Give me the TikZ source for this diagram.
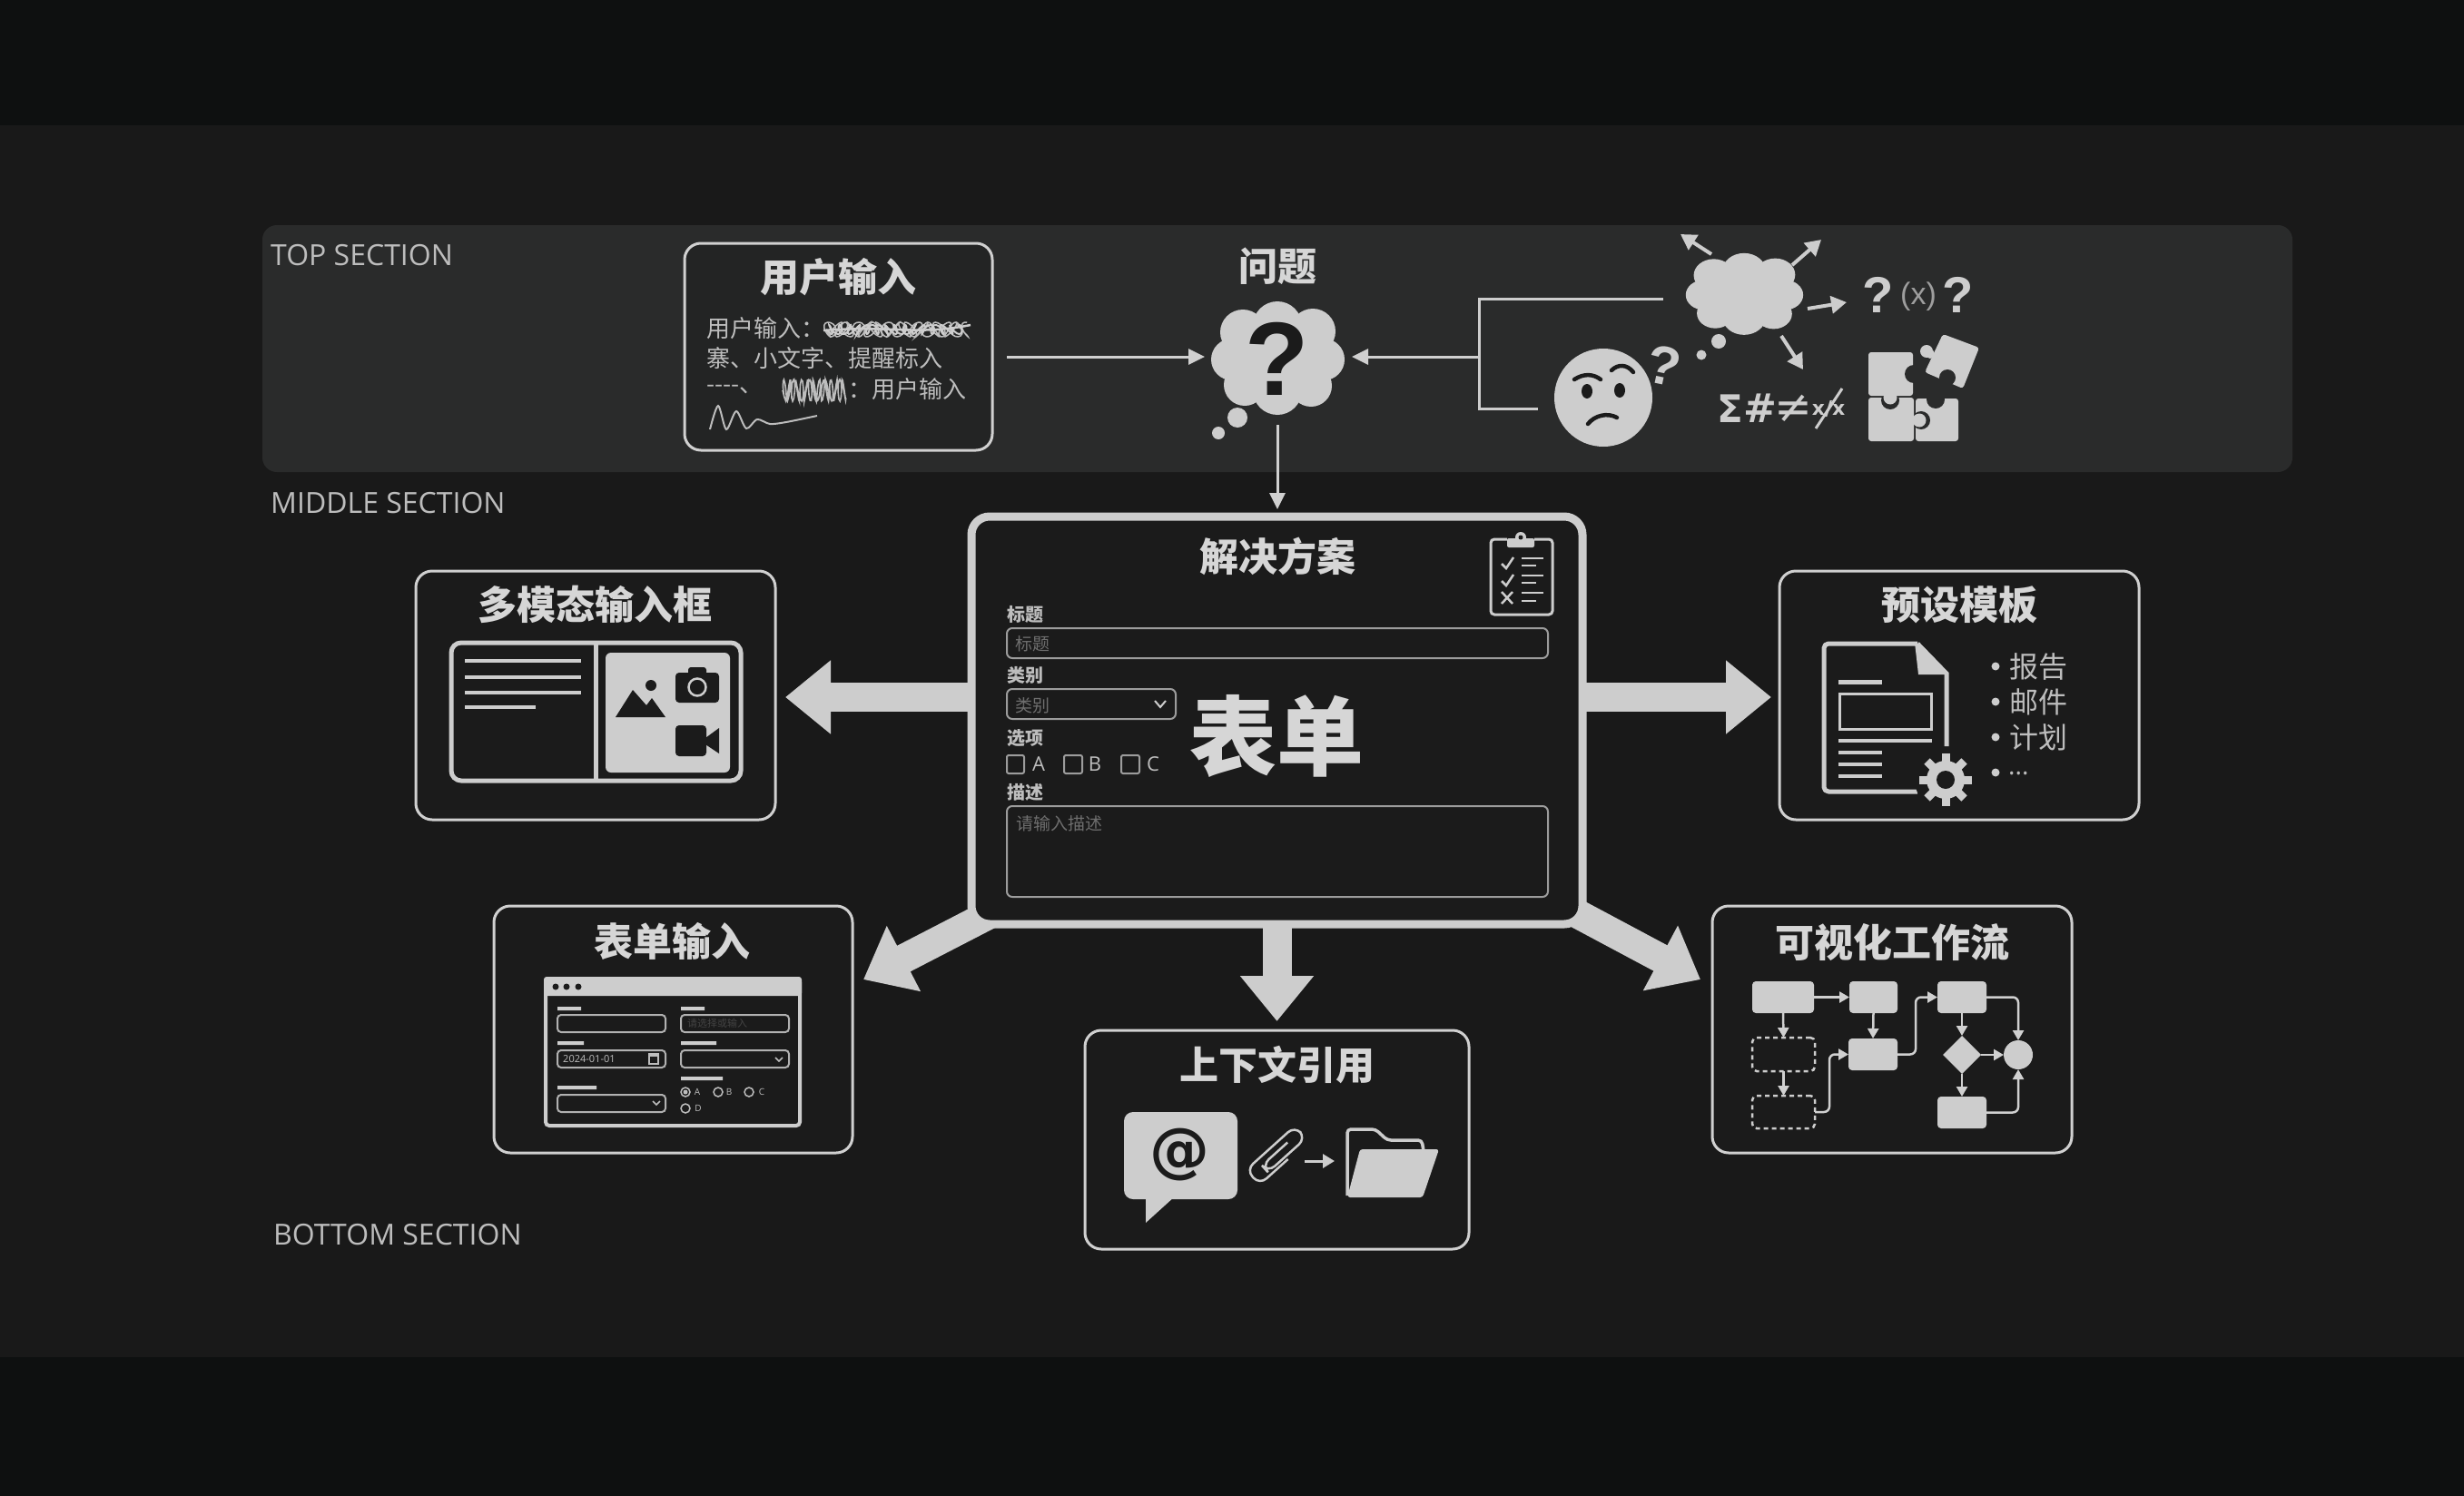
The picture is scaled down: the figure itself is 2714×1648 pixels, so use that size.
\documentclass[tikz,border=0pt]{standalone}
\usepackage{fontspec}
\setmainfont{Open Sans}
\newfontfamily\cjk{Noto Sans CJK SC}
\newfontfamily\djv{DejaVu Sans}
\newfontfamily\lib{Liberation Sans}
\usetikzlibrary{arrows.meta,shapes.geometric}
\definecolor{bandcol}{HTML}{0E1010}
\definecolor{midcol}{HTML}{191919}
\definecolor{panelcol}{HTML}{2A2B2B}
\definecolor{boxfill}{HTML}{1B1B1B}
\definecolor{userfill}{HTML}{232424}
\definecolor{light}{HTML}{CDCDCD}
\definecolor{boxline}{HTML}{D0D0D0}
\definecolor{titlecol}{HTML}{D6D6D6}
\definecolor{dimtxt}{HTML}{BDBDBD}
\definecolor{ghost}{HTML}{6E6E6E}
\newcommand{\fsz}[1]{\fontsize{#1}{#1}\selectfont}
% cx, cy, x scale, y scale
\newcommand{\lobes}[4]{\begin{scope}[shift={(#1,#2)},xscale=#3,yscale=#4]
\fill[light] (0,-35) -- (39,-29) -- (51,2) -- (37,31) -- (0,36) -- (-36,30) -- (-50,2) -- (-38,-28) -- cycle;
\fill[light] (0,-35) circle (27);
\fill[light] (-38,-28) circle (25);
\fill[light] (39,-29) circle (25);
\fill[light] (-50,2) circle (23);
\fill[light] (51,2) circle (23);
\fill[light] (-36,30) circle (23);
\fill[light] (37,31) circle (23);
\fill[light] (0,36) circle (27);
\end{scope}}
\tikzset{
  card/.style={draw=boxline,line width=3pt,fill=boxfill,rounded corners=18pt,inner sep=0pt,outer sep=0pt},
  title/.style={text=titlecol,inner sep=0pt,font=\cjk\bfseries\fsz{43}},
  seclabel/.style={text=dimtxt,inner sep=0pt,anchor=west,font=\fsz{32}},
  bodytxt/.style={text=dimtxt,inner sep=0pt,anchor=west,font=\cjk\fsz{26}},
  flabel/.style={text=dimtxt,inner sep=0pt,anchor=west,font=\cjk\bfseries\fsz{20}},
  fghost/.style={text=ghost,inner sep=0pt,anchor=west,font=\cjk\fsz{19}},
  field/.style={draw=boxline!75!black,line width=2pt,rounded corners=6pt},
  thin/.style={draw=light,line width=3pt},
  conn/.style={draw=boxline,line width=3pt,-{Triangle[length=18pt,width=17pt]}},
  spark/.style={draw=light,line width=4pt,-{Triangle[length=17pt,width=19pt]}},
  blockarrow/.style={draw=light,line width=32pt,-{Triangle[length=50pt,width=78pt]}},
  flowbox/.style={fill=light,rounded corners=4pt,inner sep=0pt,outer sep=0pt},
  flowdash/.style={draw=light,line width=2.5pt,dash pattern=on 5pt off 4pt,rounded corners=5pt,inner sep=0pt,outer sep=0pt},
  flowedge/.style={draw=boxline,line width=2.5pt,rounded corners=6pt,-{Triangle[length=11pt,width=12pt]}},
  smallt/.style={text=dimtxt,inner sep=0pt,font=\fsz{10}},
}
\begin{document}
\begin{tikzpicture}[x=1pt,y=-1pt]
\useasboundingbox (0,0) rectangle (2714,1648);
% backgrounds
\fill[midcol] (0,0) rectangle (2714,1648);
\fill[bandcol] (0,0) rectangle (2714,138);
\fill[bandcol] (0,1495) rectangle (2714,1648);
\fill[panelcol,rounded corners=16pt] (289,248) rectangle (2525,520);
% section labels
\node[seclabel] (ltop) at (298,281) {TOP SECTION};
\node[seclabel] (lmid) at (298,554) {MIDDLE SECTION};
\node[seclabel] (lbot) at (301,1360) {BOTTOM SECTION};
% user input
\node[card,fill=userfill,minimum width=339pt,minimum height=228pt] (user) at (923.5,382) {};
\node[title] (tuser) at (923,305) {用户输入};
\node[bodytxt] (u1) at (778,362) {用户输入：};
\node[bodytxt] (u2) at (778,395) {寨、小文字、提醒标入};
\node[bodytxt] (u3) at (778,429) {----、};
\node[bodytxt] (u3b) at (934,429) {：用户输入};
\draw[dimtxt,line width=1.5pt] plot[domain=0:1,samples=300] ({908+158*\x+5*sin(9000*\x)},{363+8*sin(7130*\x)});
\draw[light,line width=2pt] plot[domain=0:1,samples=200] ({910+150*\x+4*sin(5300*\x)},{363+5*sin(6100*\x)});
\draw[light,line width=2.5pt] (907,364) .. controls (980,358) and (1010,370) .. (1069,358);
\draw[dimtxt,line width=1.6pt] plot[domain=0:1,samples=160] ({862+70*\x+3*sin(5400*\x)},{430+12*sin(6900*\x)});
\draw[dimtxt,line width=2pt,smooth] plot coordinates {(782,473) (791,447) (800,473) (811,453) (822,472) (834,462) (848,467) (866,465) (900,458)};
% question cloud
\lobes{1407}{394}{1}{1}
\fill[light] (1363,460) circle (11) (1342,477) circle (7);
\node[inner sep=0pt,text=boxfill,font=\lib\bfseries\fsz{115}] (qmark) at (1407,395) {?};
\node[title] (tq) at (1407,293) {问题};
\coordinate (qin) at (1327,393);
\coordinate (qout) at (1489,393);
\coordinate (qbot) at (1407,468);
\coordinate (jleft) at (1629,393);
\coordinate (cw) at (1832,329);
\coordinate (jtop) at (1629,329);
\coordinate (jbot) at (1629,450);
\coordinate (fw) at (1694,450);
\draw[conn,shorten <=16pt] (user.east |- qin) -- (qin);
\draw[thin] (cw) -- (jtop) -- (jbot) -- (fw);
\draw[conn] (jleft) -- (qout);
% thinking cloud
\lobes{1921}{323.5}{.88}{.72}
\fill[light] (1893,376) circle (8) (1874,391) circle (5.5);
\coordinate (c1a) at (1885,280); \coordinate (c1b) at (1851,258);
\coordinate (c2a) at (1974,292); \coordinate (c2b) at (2006,264);
\coordinate (c3a) at (1991,340); \coordinate (c3b) at (2034,333);
\coordinate (c4a) at (1962,370); \coordinate (c4b) at (1986,407);
\draw[spark] (c1a) -- (c1b);
\draw[spark] (c2a) -- (c2b);
\draw[spark] (c3a) -- (c3b);
\draw[spark] (c4a) -- (c4b);
\node[inner sep=0pt,text=light,font=\lib\bfseries\fsz{56}] (q1) at (2069,325) {?};
\node[inner sep=0pt,text=ghost!50!light,font=\lib\fsz{34}] (q2) at (2113,327) {(x)};
\node[inner sep=0pt,text=light,font=\lib\bfseries\fsz{56}] (q3) at (2157,325) {?};
% face
\fill[light] (1766,438) circle (54);
\fill[boxfill] (1748,431) ellipse (6 and 8) (1784,430) ellipse (6 and 8);
\draw[boxfill,line width=4.5pt,line cap=round] (1734,418) .. controls (1745,411) and (1755,412) .. (1763,418);
\draw[boxfill,line width=4.5pt,line cap=round] (1775,408) .. controls (1782,401) and (1792,401) .. (1799,410);
\draw[boxfill,line width=4.5pt,line cap=round] (1749,467) .. controls (1756,458) and (1770,454) .. (1781,460);
\node[inner sep=0pt,text=light,rotate=-12,font=\lib\bfseries\fsz{60}] (fq) at (1833,403) {?};
% symbols
\node[inner sep=0pt,text=light,font=\djv\bfseries\fsz{42}] (s1) at (1906,450) {Σ};
\node[inner sep=0pt,text=light,font=\djv\bfseries\fsz{44}] (s2) at (1939,450) {\#};
\node[inner sep=0pt,text=light,font=\djv\fsz{50}] (s3) at (1975,450) {≠};
\node[inner sep=0pt,text=light,font=\djv\bfseries\fsz{22}] (s4) at (2014,450) {x/x};
\draw[light,line width=3pt] (2000,472) -- (2029,428);
% puzzle
\fill[light,rounded corners=3pt] (2058,388) rectangle (2107,436);
\fill[light,rounded corners=3pt] (2058,438) rectangle (2108,486);
\fill[light,rounded corners=3pt] (2110,439) rectangle (2157,486);
\fill[panelcol] (2108,412) circle (10) (2132,440) circle (10);
\begin{scope}
\clip (2056,438) rectangle (2108,486);
\fill[panelcol] (2082,441) circle (10);
\end{scope}
\fill[light] (2082,438) circle (7.5);
\begin{scope}
\clip (2110,439) rectangle (2157,486);
\fill[panelcol] (2116,463) circle (10);
\end{scope}
\fill[light] (2114,463) circle (7.5);
\fill[light,rounded corners=3pt] (2140,368) -- (2180,383) -- (2162,428) -- (2120,410) -- cycle;
\fill[light] (2122,387) circle (7) (2126,390) circle (5);
\fill[panelcol] (2145,416) circle (9);
% arrows out of the solution
\coordinate (swS) at (1100,1002);
\coordinate (swT) at (951,1079);
\coordinate (seS) at (1725,1000);
\coordinate (seT) at (1873,1079);
\draw[conn] (qbot) -- (1407,561);
\draw[blockarrow] (swS) -- (swT);
\draw[blockarrow] (seS) -- (seT);
% solution
\node[card,line width=9pt,draw=light,rounded corners=20pt,minimum width=673pt,minimum height=449pt] (sol) at (1406.5,793.5) {};
\coordinate (ml) at (1000,768);
\draw[blockarrow,shorten <=-1pt] (sol.west |- ml) -- (865,768);
\draw[blockarrow,shorten <=-1pt] (sol.east |- ml) -- (1951,768);
\draw[blockarrow,shorten <=-1pt] (sol.south) -- (1406.5,1125);
\node[title] (tsol) at (1407,613) {解决方案};
% clipboard
\draw[light,line width=3pt,rounded corners=4pt] (1660,594) -- (1642,594) -- (1642,677) -- (1710,677) -- (1710,594) -- (1690,594);
\fill[light,rounded corners=2pt] (1660,593) rectangle (1690,603);
\fill[light] (1675,592) circle (6);
\fill[boxfill] (1675,592) circle (2.5);
\draw[light,line width=2.5pt] (1654,621) -- (1659,626) -- (1667,614);
\draw[light,line width=2.5pt] (1654,640) -- (1659,645) -- (1667,633);
\draw[light,line width=2.5pt] (1654,652) -- (1666,665) (1666,652) -- (1654,665);
\draw[light,line width=2.5pt] (1676,615) -- (1700,615) (1676,623) -- (1692,623);
\draw[light,line width=2.5pt] (1676,634) -- (1700,634) (1676,642) -- (1692,642);
\draw[light,line width=2.5pt] (1676,653) -- (1700,653) (1676,662) -- (1692,662);
% form in solution
\node[flabel] (l1) at (1109,677) {标题};
\draw[field] (1109,692) rectangle (1705,725);
\node[fghost] (g1) at (1118,709) {标题};
\node[flabel] (l2) at (1109,744) {类别};
\draw[field] (1109,759) rectangle (1295,792);
\node[fghost] (g2) at (1118,777) {类别};
\draw[light,line width=2pt] (1272,772) -- (1278,779) -- (1284,772);
\node[flabel] (l3) at (1109,813) {选项};
\draw[boxline!75!black,line width=2pt,rounded corners=2pt] (1109,832) rectangle (1128,852);
\draw[boxline!75!black,line width=2pt,rounded corners=2pt] (1172,832) rectangle (1192,852);
\draw[boxline!75!black,line width=2pt,rounded corners=2pt] (1235,832) rectangle (1255,852);
\node[text=dimtxt,inner sep=0pt,font=\fsz{22}] (oa) at (1144,842) {A};
\node[text=dimtxt,inner sep=0pt,font=\fsz{22}] (ob) at (1206,842) {B};
\node[text=dimtxt,inner sep=0pt,font=\fsz{22}] (oc) at (1270,842) {C};
\node[flabel] (l4) at (1109,873) {描述};
\draw[field] (1109,888) rectangle (1705,988);
\node[fghost] (g4) at (1119,907) {请输入描述};
\node[inner sep=0pt,text=titlecol,font=\cjk\bfseries\fsz{96}] (big) at (1406,811) {表单};
% multimodal
\node[card,minimum width=396pt,minimum height=274pt] (multi) at (656,766) {};
\node[title] (tmulti) at (655,666) {多模态输入框};
\draw[light,line width=5pt,rounded corners=11pt] (497,708) rectangle (816,860);
\draw[light,line width=5pt] (656,708) -- (656,860);
\draw[light,line width=3.5pt] (512,728) -- (640,728) (512,746) -- (640,746) (512,763) -- (640,763) (512,779) -- (590,779);
\fill[light,rounded corners=6pt] (667,719) rectangle (804,851);
\fill[boxfill] (678,790) -- (697,760) -- (712,777) -- (718,769) -- (733,790) -- cycle;
\fill[boxfill] (717,755) circle (6);
\fill[boxfill,rounded corners=4pt] (744,741) rectangle (792,774);
\fill[boxfill,rounded corners=3pt] (758,735) rectangle (778,745);
\draw[light,line width=2.5pt] (768,757) circle (9.5);
\fill[boxfill,rounded corners=4pt] (744,799) rectangle (778,833);
\fill[boxfill] (777,813) -- (792,802) -- (792,830) -- (777,820) -- cycle;
% templates
\node[card,minimum width=396pt,minimum height=274pt] (tpl) at (2158,766) {};
\node[title] (ttpl) at (2158,666) {预设模板};
\draw[light,line width=5pt,line join=round,rounded corners=5pt] (2112,872) -- (2009,872) -- (2009,709) -- (2112,709);
\draw[light,line width=5pt] (2112,709) -- (2144,742) -- (2144,822);
\fill[light,line join=round] (2109,708) -- (2146,743) -- (2113,743) -- cycle;
\draw[light,line width=5pt] (2025,751) -- (2073,751);
\draw[light,line width=3pt] (2026,764) rectangle (2127,803);
\draw[light,line width=3.5pt] (2025,816) -- (2128,816) (2025,829) -- (2073,829) (2025,842) -- (2073,842) (2025,855) -- (2073,855);
\fill[boxfill] (2143,859) circle (34);
\fill[light] (2143,859) circle (21);
\foreach \a in {0,45,...,315} { \draw[light,line width=9pt] (2143,859) ++(\a:18) -- ++(\a:11); }
\fill[boxfill] (2143,859) circle (10);
\fill[light] (2198,734) circle (4.5) (2198,773) circle (4.5) (2198,812) circle (4.5) (2198,851) circle (4.5);
\node[bodytxt,font=\cjk\fsz{32}] (t1) at (2213,734) {报告};
\node[bodytxt,font=\cjk\fsz{32}] (t2) at (2213,773) {邮件};
\node[bodytxt,font=\cjk\fsz{32}] (t3) at (2213,812) {计划};
\node[bodytxt,font=\fsz{28}] (t4) at (2212,852) {...};
% form input
\node[card,minimum width=395pt,minimum height=272pt] (form) at (741.5,1134) {};
\node[title] (tform) at (740,1037) {表单输入};
\draw[light,line width=4pt,rounded corners=4pt] (601,1078) rectangle (881,1240);
\fill[light,rounded corners=3pt] (599,1076) -- (883,1076) -- (883,1097) -- (599,1097) -- cycle;
\fill[boxfill] (612,1087) circle (3.5) (624,1087) circle (3.5) (637,1087) circle (3.5);
\fill[light] (614,1109) rectangle (640,1113) (750,1109) rectangle (776,1113) (614,1147) rectangle (643,1151) (750,1147) rectangle (789,1151) (614,1196) rectangle (657,1200) (750,1186) rectangle (796,1190);
\foreach \x/\y in {614/1118,750/1118,614/1157,750/1157,614/1206} {
  \draw[boxline!85!black,line width=2pt,rounded corners=4pt] (\x,\y) rectangle ({\x+119},{\y+19});
}
\node[text=ghost!130,inner sep=0pt,anchor=west,font=\cjk\fsz{11}] (pl) at (757,1127.5) {请选择或输入};
\node[text=dimtxt,inner sep=0pt,anchor=west,font=\fsz{11}] (dt) at (620,1166.5) {2024-01-01};
\draw[dimtxt,line width=1.5pt] (715,1161) rectangle (725,1172);
\fill[dimtxt] (715,1161) rectangle (725,1164);
\draw[dimtxt,line width=1.5pt] (854,1165) -- (858,1169) -- (862,1165);
\draw[dimtxt,line width=1.5pt] (719,1213) -- (723,1217) -- (727,1213);
\draw[dimtxt,line width=1.5pt] (755,1203) circle (5) (791,1203) circle (5) (825,1203) circle (5) (755,1221) circle (5);
\fill[dimtxt] (755,1203) circle (2.5);
\node[smallt] (ra) at (768,1203) {A};
\node[smallt] (rb) at (803,1203) {B};
\node[smallt] (rc) at (839,1203) {C};
\node[smallt] (rd) at (769,1221) {D};
% workflow
\node[card,minimum width=396pt,minimum height=272pt] (flow) at (2084,1134) {};
\node[title] (tflow) at (2084,1038) {可视化工作流};
\node[flowbox,minimum width=68pt,minimum height=35pt] (b1) at (1964,1098.5) {};
\node[flowbox,minimum width=53pt,minimum height=35pt] (b2) at (2063.5,1098.5) {};
\node[flowbox,minimum width=54pt,minimum height=35pt] (b3) at (2161,1098.5) {};
\node[flowdash,minimum width=69pt,minimum height=37pt] (b4) at (1964.5,1161.5) {};
\node[flowbox,minimum width=54pt,minimum height=35pt] (b5) at (2063,1161.5) {};
\node[flowdash,minimum width=69pt,minimum height=36pt] (b6) at (1964.5,1225) {};
\node[flowbox,minimum width=54pt,minimum height=35pt] (b7) at (2161,1225.5) {};
\node[diamond,fill=light,inner sep=0pt,outer sep=0pt,minimum width=42pt,minimum height=42pt] (dia) at (2161,1162) {};
\node[circle,fill=light,inner sep=0pt,outer sep=0pt,minimum size=32pt] (circ) at (2223,1162) {};
\draw[flowedge] (b1.east) -- (b2.west);
\draw[flowedge] (b1.south) -- (b4.north);
\draw[flowedge] (b2.south) -- (b5.north);
\draw[flowedge] (b4.south) -- (b6.north);
\draw[flowedge] (b6.east) -- (2015,1225) -- (2015,1161.5) -- (b5.west);
\draw[flowedge] (b5.east) -- (2110,1161.5) -- (2110,1098.5) -- (b3.west);
\draw[flowedge] (b3.east) -| (circ.north);
\draw[flowedge] (b3.south) -- (dia.north);
\draw[flowedge] (dia.east) -- (circ.west);
\draw[flowedge] (dia.south) -- (b7.north);
\draw[flowedge] (b7.east) -| (circ.south);
% context
\node[card,minimum width=423pt,minimum height=241pt] (ctx) at (1406.5,1255.5) {};
\node[title] (tctx) at (1407,1173) {上下文引用};
\fill[light,rounded corners=10pt] (1238,1225) rectangle (1363,1321);
\fill[light] (1262,1316) -- (1262,1347) -- (1294,1318) -- cycle;
\node[inner sep=0pt,text=boxfill,font=\djv\bfseries\fsz{66}] (at) at (1299,1272) {@};
\begin{scope}[shift={(1407.5,1273.5)},rotate=42]
\draw[light,line width=2.5pt,rounded corners=10pt] (6,10) -- (-36,10) -- (-36,-12) -- (36,-12) -- (36,6) -- (-20,6) -- (-20,-4) -- (18,-4);
\end{scope}
\coordinate (ca) at (1437,1279); \coordinate (cb) at (1470,1279);
\draw[light,line width=3pt,-{Triangle[length=13pt,width=15pt]}] (ca) -- (cb);
\draw[light,line width=3.5pt,rounded corners=4pt] (1484,1317) -- (1484,1244) -- (1515,1244) -- (1528,1256) -- (1566,1256) -- (1568,1268);
\fill[light,rounded corners=3pt] (1498,1266) -- (1585,1266) -- (1567,1319) -- (1484,1319) -- cycle;
\end{tikzpicture}
\end{document}
